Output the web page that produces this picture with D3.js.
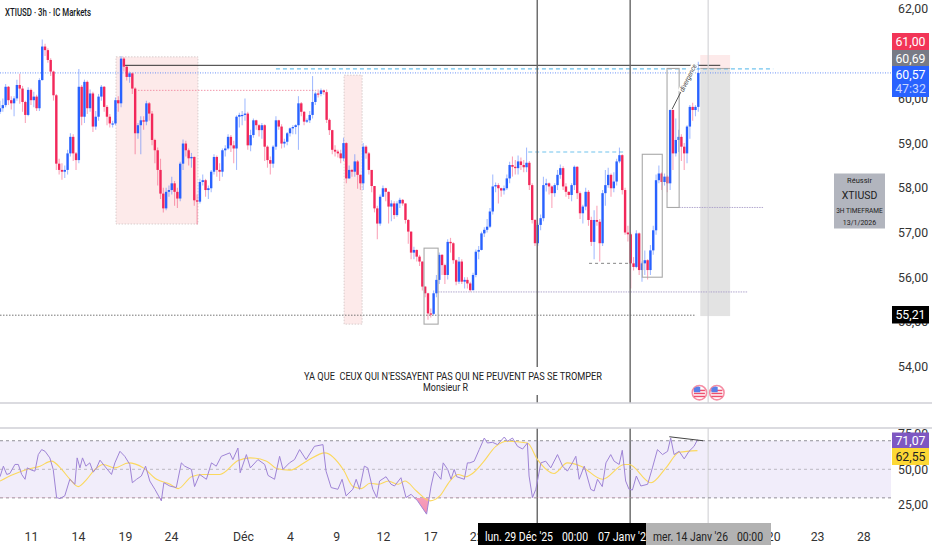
<!DOCTYPE html>
<html>
<head>
<meta charset="utf-8">
<script src="https://cdn.jsdelivr.net/npm/d3@7"></script>
<style>
  html, body { margin: 0; background: #fff; }
  text { font-family: Roboto, sans-serif; }
</style>
</head>
<body>
<div id="chart"></div>
<script>
const closes = [
  59.78,59.85,60.26,59.96,59.89,60.00,60.30,60.22,59.92,59.63,
  60.19,59.96,60.04,59.78,60.41,61.16,61.08,60.86,60.60,60.07,
  58.54,58.40,58.36,58.40,58.77,59.14,58.77,58.62,60.26,59.59,
  60.37,59.78,60.11,59.37,59.59,60.04,60.26,59.81,59.59,59.44,
  59.44,59.96,59.89,60.89,60.71,60.48,60.56,60.22,59.22,59.40,
  59.51,59.48,59.89,59.66,59.07,58.84,58.40,57.87,57.54,57.91,
  57.95,58.10,57.91,57.76,58.54,58.99,58.84,58.66,58.69,57.72,
  57.69,58.13,58.17,57.95,57.99,58.36,58.69,58.40,58.36,58.84,
  58.88,59.14,58.95,58.88,59.59,59.63,59.63,59.66,58.95,59.18,
  59.51,59.40,59.29,59.40,58.92,58.62,58.54,58.92,59.51,59.37,
  58.99,59.03,59.22,59.33,59.36,59.40,59.89,59.70,59.48,59.51,59.63,
  59.92,60.11,60.10,60.18,60.14,59.52,59.29,58.85,58.81,58.77,58.66,59.00,58.21,
  58.40,58.36,58.59,58.29,58.10,58.92,58.77,58.40,58.04,
  57.54,57.20,57.80,57.99,57.91,57.58,57.65,57.39,57.65,
  57.73,57.65,57.28,57.02,56.55,56.61,56.46,56.35,55.79,55.64,
  55.19,55.18,55.64,55.94,56.50,56.27,56.05,56.79,56.76,56.38,
  55.90,56.35,55.90,55.94,55.86,55.71,56.05,56.57,56.61,56.98,
  57.06,57.13,57.47,58.03,58.06,57.99,57.94,57.99,58.21,58.51,
  58.47,58.44,58.59,58.51,58.46,58.56,58.06,57.28,
  56.76,57.17,57.32,58.06,58.10,58.03,57.88,58.06,58.29,58.44,
  58.03,57.91,57.84,58.06,58.47,57.88,57.43,57.58,57.91,57.28,
  56.79,57.28,57.24,56.76,57.88,58.06,58.29,57.99,58.14,58.59,
  58.73,57.95,57.00,56.96,56.31,56.23,56.98,56.16,56.31,56.38,
  56.16,56.60,57.05,58.17,58.32,58.13,58.25,58.10,59.74,58.77,
  59.07,59.14,58.92,58.77,59.37,59.81,59.74,59.81,60.57
];
const highs = [
  59.95,60.00,60.32,60.28,60.05,60.05,60.42,60.55,60.28,59.95,
  60.25,60.22,60.15,60.08,60.45,61.32,61.22,61.12,60.90,60.62,
  60.10,58.65,58.55,58.50,58.85,59.22,59.20,58.80,60.66,60.30,
  60.42,60.40,60.20,60.15,59.72,60.10,60.30,60.28,59.85,59.65,
  59.50,60.02,60.05,60.95,60.92,60.72,60.60,60.58,60.25,59.45,
  59.60,59.60,59.95,59.92,59.72,59.10,58.90,58.65,58.00,58.00,
  58.05,58.25,58.15,58.00,58.58,59.08,59.05,58.88,58.78,58.70,
  57.85,58.20,58.30,58.20,58.05,58.40,58.75,58.72,58.55,58.88,
  58.95,59.20,59.18,59.05,59.62,59.68,59.72,60.00,59.70,59.30,
  59.55,59.52,59.42,59.45,59.42,58.95,58.70,58.95,59.60,59.52,
  59.42,59.10,59.25,59.35,59.40,59.42,60.05,59.92,59.72,59.55,59.72,
  60.50,60.15,60.20,60.22,60.20,60.20,59.55,59.30,58.95,58.85,58.85,59.12,59.02,
  58.50,58.42,58.75,58.62,58.30,59.00,58.95,58.80,58.40,
  58.04,57.60,57.85,58.05,58.00,57.92,57.72,57.70,57.70,
  57.78,57.75,57.65,57.30,57.02,56.68,56.62,56.50,56.35,55.80,
  55.65,55.30,55.70,56.05,56.55,56.52,56.30,56.85,56.88,56.78,
  56.40,56.45,56.40,56.00,56.00,55.90,56.10,56.62,56.70,57.02,
  57.12,57.30,57.55,58.30,58.12,58.10,58.00,58.05,58.30,58.58,
  58.70,58.62,58.72,58.68,58.62,58.90,58.60,58.10,
  57.30,57.22,57.40,58.25,58.20,58.12,58.05,58.10,58.40,58.52,
  58.48,58.10,57.92,58.10,58.50,58.48,57.92,57.62,58.00,57.95,
  57.35,57.50,57.60,57.30,57.95,58.40,58.45,58.32,58.35,58.65,
  58.90,58.75,58.00,57.15,57.00,56.45,57.05,57.00,56.35,56.60,
  56.40,56.72,57.15,58.30,58.50,58.35,58.32,58.28,59.75,59.75,
  59.55,59.30,59.20,59.00,59.40,59.85,59.90,59.85,60.82
];
const lows = [
  59.65,59.70,59.80,59.85,59.75,59.60,59.95,59.88,59.70,59.45,
  59.60,59.85,59.80,59.72,59.72,60.40,60.95,60.80,60.50,59.95,
  58.40,58.30,58.18,58.22,58.30,58.70,58.60,58.40,58.55,59.40,
  59.45,59.65,59.70,59.25,59.30,59.50,59.95,59.70,59.40,59.35,
  59.35,59.40,59.70,59.80,60.60,60.40,60.35,60.10,58.75,59.10,
  58.75,59.30,59.40,59.50,58.95,58.55,58.05,57.75,57.45,57.50,
  57.80,57.85,57.60,57.55,57.70,58.40,58.70,58.50,58.45,57.60,
  57.18,57.65,58.05,57.80,57.75,57.90,58.30,58.25,58.15,58.25,
  58.70,58.85,58.80,58.55,58.40,59.35,59.40,59.50,58.85,58.82,
  59.12,59.30,59.15,59.10,58.60,58.45,58.30,58.45,58.85,59.30,
  58.88,58.90,58.95,59.15,59.20,59.20,58.85,59.60,59.40,59.45,59.45,
  59.55,59.85,60.02,60.05,60.08,59.45,59.18,58.75,58.70,58.68,58.55,58.60,58.10,
  58.20,58.25,58.25,57.98,57.95,57.95,58.65,58.30,57.90,
  57.45,56.85,57.15,57.85,57.70,57.20,57.25,57.30,57.35,
  57.55,57.60,57.20,56.75,56.40,56.40,56.35,56.25,55.70,55.55,
  55.05,55.10,55.15,55.55,55.85,56.05,55.85,55.95,56.55,56.30,
  55.82,55.85,55.85,55.75,55.75,55.68,55.70,56.00,56.40,56.60,
  56.90,57.00,57.10,57.40,57.90,57.65,57.80,57.85,57.95,58.10,
  58.25,58.30,58.30,58.40,58.35,58.35,57.95,57.20,
  56.70,56.70,57.05,57.25,57.92,57.85,57.55,57.80,57.95,58.20,
  57.95,57.80,57.75,57.70,57.95,57.75,57.30,57.20,57.50,57.15,
  56.70,56.40,57.15,56.35,56.70,57.60,58.00,57.80,57.90,58.05,
  58.55,57.85,56.95,56.80,55.75,56.15,56.20,56.05,55.90,56.05,
  55.95,56.05,56.50,56.95,58.10,57.95,58.05,57.90,57.95,58.40,
  58.70,58.80,58.60,58.40,58.55,59.10,59.50,59.60,59.70
];

const rsiBars = [0,1.2,2.4,3.5,5.3,6.5,7.7,8.9,9.7,11.2,12.4,13.6,14.8,16,17.7,18.9,20.1,21.3,23,24.8,26.6,27.4,28.4,29.3,30.5,31.9,33.1,34.3,35.5,37.2,39.6,40.8,42.6,44.3,46.1,47,48.5,50.2,51.7,53.2,55,57.3,58.2,60.3,62.6,64.4,65.6,68,69.1,70.9,73.3,75.1,76.8,78.6,81.6,82.7,84.5,85.3,87.5,88.9,91.6,94,95.2,97.5,99.3,100.5,102.8,104.6,106.4,108.7,111.7,114.7,115.8,117.6,120,121.5,122.9,125.3,126.5,127.7,129.4,130.6,132.4,133.8,134.8,137.1,138.9,140.1,142.4,144.2,146,148.3,151.5,153.1,154.3,156.6,157.4,159,160.2,161.3,162.2,164.9,166,166.9,168.4,170.2,172,173.1,174.9,176.7,179.1,180.2,182,183.8,185.6,187.3,187.9,189.1,190.3,192.1,193.8,195.6,198,199.8,201.5,203.3,204.5,205.7,207.5,209.8,211,212.2,213.9,215.2,216.9,218.1,219.9,221,222.2,223.4,224.6,226,227.6,230,231.7,233.5,235.3,237.1,238.2,239.4,241.2,243,244.7,246.5,247.7];
const rsiValues = [44.8,52.2,46.4,47.1,53.4,53.4,46.4,43,51,49.4,48.7,60.3,63.8,62.6,58,49.9,30.2,29.5,31.4,43,39.5,58,51,58,52.2,54.5,48,51,56.4,52.2,46.4,54.5,62.6,59.1,53.4,40.6,43,45.3,52.2,41.8,36,27.9,40.6,38.3,37.2,54.5,52.2,49.9,37.9,46.4,43,54.5,52.2,59.1,61.5,56.8,64.9,47.6,60.3,51,56.8,53.4,45.7,43,59.1,49.9,54.5,56.8,63.8,56.8,66.1,67.3,48.7,37.2,36,43,31.4,36,43,36,52.2,51,36,30.2,41.8,44.8,39.5,38.3,44.1,30.2,32.5,27.9,18.6,38.3,48.7,43,54.5,49.9,43,49.9,44.8,43,54.5,54.5,55.7,63.8,71.9,68.4,68.9,67.3,72.6,69.6,71.9,66.1,64.2,68.4,45.3,30.2,36,54.5,55.7,51,60.3,52.2,48.7,54.5,59.1,43,52.2,36,34.8,43,37.9,54.5,60.3,55.7,53.4,63.3,41.8,36,35.5,45.3,38.3,39.5,51,63.8,60.3,62.6,71.9,60.3,62.6,57.3,62.6,66.1,70.7];
const maBars = [0,4.7,9.5,14.2,18.3,21.9,24.9,27.8,30.8,33.7,36.7,40.8,45.6,50.9,55.6,60.4,63.3,68,72.2,78.1,84.6,88.8,94.7,98.2,103,108.9,115.4,121.9,125.4,128.4,131.4,134.3,137.9,141.4,143.8,147.9,152.7,156.2,159.8,162.7,165.4,167.8,171.4,176.1,180.2,187.3,190.9,196.8,201.5,206.3,214,221.7,223.4,231.2,236.5,241.2,247.7];
const maValues = [41.8,46.4,49.9,52.2,55.7,49.9,42.9,37.9,43,49.9,53.4,51,54.5,51,43,39.5,36.5,44.8,46.4,46.4,56.1,58,55.7,50.6,49.4,55.7,61.5,49.9,37.9,36.5,40.2,39.5,41.8,39.5,41.8,34.8,27.9,31.4,41.8,46.4,44.8,47.1,54.5,66.1,69.6,68.4,56.8,47.1,54.5,52.2,43,53.4,53.4,40.6,51,61.9,63.1];

const timeBars = [11,27.7,44.4,60.7,86.3,103,119.4,136,152.8,169.1,274.6,290.2,306.6];
const timeLabels = ["11","14","19","24","Déc","4","9","12","17","22","20","23","28"];
const priceTicks = [54,55,56,57,58,59,60,62];
const rsiTicks = [25,50,75];
const rsiLevels = [70,50,30];

// [bar from, bar to, price top, price bottom]
const pinkZones = [[41.2,70.3,60.93,57.19],[122.2,128.6,60.52,54.95],[248.7,259.3,60.97,60.66]];
const greyZones = [[248.7,259.3,60.66,55.13]];
const outlineBoxes = [[150.6,155.6,56.65,54.95],[228.1,235.2,58.75,56.0],[236.9,241.2,60.67,57.56]];
const eventBars = [190.8,223.8];
const cursorBar = 251.5;
const flagBars = [248.4,254.6];

const width = 932, height = 550;
const paneRight = 891, axisX = 892, axisW = 37;

const x = d3.scaleLinear().domain([0, 331]).range([0, width]);
const y = d3.scaleLinear().domain([54, 62]).range([366.6, 9]);
const yRsi = d3.scaleLinear().domain([25, 75]).range([505, 433.6]);
const comma = v => d3.format(".2f")(v).replace(".", ",");

const svg = d3.select("#chart").append("svg")
  .attr("width", width).attr("height", height)
  .style("display", "block");

// zones
const zoneRect = (sel, z) => sel
  .attr("x", x(z[0])).attr("width", x(z[1]) - x(z[0]))
  .attr("y", y(z[2])).attr("height", y(z[3]) - y(z[2]));

pinkZones.forEach((z, i) => {
  const r = svg.append("rect").call(zoneRect, z).attr("fill", "#fdeaea");
  if (i < 2) r.attr("stroke", "#cfc4c4").attr("stroke-dasharray", "1.5 1.5").attr("stroke-width", 0.8);
});
greyZones.forEach(z => svg.append("rect").call(zoneRect, z).attr("fill", "#e3e3e3"));

// horizontal levels
const hLine = (b0, b1, p, color, w, dash) => svg.append("line")
  .attr("x1", x(b0)).attr("x2", x(b1)).attr("y1", y(p)).attr("y2", y(p))
  .attr("stroke", color).attr("stroke-width", w).attr("stroke-dasharray", dash);

hLine(0, 316.8, 60.57, "#5b86f5", 0.9, "1 1.5");
hLine(49, 112.3, 60.18, "#f08aa2", 0.9, "1.5 1.5");
hLine(0, 247.2, 55.15, "#666", 0.9, "1.5 1.5");
hLine(155.6, 265.7, 55.67, "#a89cc8", 0.9, "1.5 1");
hLine(241.2, 271, 57.56, "#a89cc8", 0.9, "1.5 1");
hLine(209.2, 223.8, 56.31, "#777", 0.9, "3 3");
hLine(187.6, 221.3, 58.8, "#71c4ee", 1.1, "4 3");
hLine(98, 274.6, 60.66, "#71c4ee", 1.1, "4 3");
hLine(44, 255.8, 60.74, "#333", 1, null);
hLine(248.7, 259.3, 60.67, "#999", 0.8, null);

// candles
const bars = closes.map((c, i) => ({
  i, close: c, open: i ? closes[i - 1] : 59.7, high: highs[i], low: lows[i]
}));
const up = d => d.close >= d.open;

svg.append("g").selectAll("line").data(bars).enter().append("line")
  .attr("x1", d => x(d.i)).attr("x2", d => x(d.i))
  .attr("y1", d => y(Math.max(d.high, d.open, d.close)))
  .attr("y2", d => y(Math.min(d.low, d.open, d.close)))
  .attr("stroke", d => up(d) ? "#2962ff" : "#f2285a")
  .attr("stroke-opacity", 0.42).attr("stroke-width", 1.1);

svg.append("g").selectAll("rect").data(bars).enter().append("rect")
  .attr("x", d => x(d.i) - 1.2).attr("width", 2.4)
  .attr("y", d => y(Math.max(d.open, d.close)))
  .attr("height", d => Math.max(1.2, Math.abs(y(d.open) - y(d.close))))
  .attr("fill", d => up(d) ? "#2962ff" : "#f2285a");

// outline boxes
outlineBoxes.forEach(z => svg.append("rect").call(zoneRect, z)
  .attr("fill", "none").attr("stroke", "#a9a9a9").attr("stroke-width", 1.1));

// divergence note
svg.append("line")
  .attr("x1", x(238.7)).attr("y1", y(59.76)).attr("x2", x(246.9)).attr("y2", y(60.77))
  .attr("stroke", "#444").attr("stroke-width", 0.9);
const noteX = x(244.4), noteY = y(60.46);
svg.append("rect").attr("x", -16).attr("y", -3.5).attr("width", 32).attr("height", 7).attr("fill", "#fff")
  .attr("transform", `translate(${noteX},${noteY}) rotate(-63)`);
svg.append("text").text("divergence")
  .attr("transform", `translate(${noteX},${noteY}) rotate(-63)`)
  .attr("text-anchor", "middle").attr("dy", "0.33em")
  .attr("font-size", 7).attr("font-style", "italic").attr("fill", "#444")
  .attr("textLength", 30).attr("lengthAdjust", "spacingAndGlyphs");

// vertical lines, main pane and rsi pane
[[0, 403], [428, 523]].forEach(([t, bottom]) => {
  eventBars.forEach(b => svg.append("line")
    .attr("x1", x(b)).attr("x2", x(b)).attr("y1", t).attr("y2", bottom)
    .attr("stroke", "#666").attr("stroke-width", 1.4));
  svg.append("line")
    .attr("x1", x(cursorBar)).attr("x2", x(cursorBar)).attr("y1", t).attr("y2", bottom)
    .attr("stroke", "#d4d4d8").attr("stroke-width", 1.2);
});

// quote
svg.append("rect").attr("x", 300).attr("y", 367).attr("width", 305).attr("height", 28).attr("fill", "#fff");
svg.append("text").attr("x", 304).attr("y", 379.5)
  .attr("font-size", 10.2).attr("fill", "#222").attr("xml:space", "preserve")
  .attr("textLength", 298).attr("lengthAdjust", "spacingAndGlyphs")
  .text("YA QUE  CEUX QUI N'ESSAYENT PAS QUI NE PEUVENT PAS SE TROMPER");
svg.append("text").attr("x", 423).attr("y", 390.5)
  .attr("font-size", 10.2).attr("fill", "#222")
  .attr("textLength", 45).attr("lengthAdjust", "spacingAndGlyphs")
  .text("Monsieur R");

// flags
flagBars.forEach(b => {
  const g = svg.append("g").attr("transform", `translate(${x(b)},392.7)`);
  g.append("circle").attr("r", 7.2).attr("fill", "#fff").attr("stroke", "#f58ea4").attr("stroke-width", 1.6);
  [-3, 0, 3].forEach(dy => g.append("rect").attr("x", -5.5).attr("y", dy).attr("width", 11).attr("height", 1.5).attr("fill", "#ef4f6f"));
  g.append("path").attr("d", "M-5.5,-0.5 V-4.5 A7,7 0 0 1 0.8,-5.8 V-0.5 Z").attr("fill", "#5b7fe8");
});

// pane borders
[403, 428].forEach(py => svg.append("line")
  .attr("x1", 0).attr("x2", width).attr("y1", py).attr("y2", py)
  .attr("stroke", "#cfcfd6").attr("stroke-width", 1.4));

// rsi pane
svg.insert("rect", ":first-child")
  .attr("x", 0).attr("width", paneRight)
  .attr("y", yRsi(70)).attr("height", yRsi(30) - yRsi(70))
  .attr("fill", "#f1edfa");

rsiLevels.forEach(v => svg.append("line")
  .attr("x1", 0).attr("x2", paneRight).attr("y1", yRsi(v)).attr("y2", yRsi(v))
  .attr("stroke", v === 50 ? "#b5b2bb" : "#85838c").attr("stroke-width", 0.9).attr("stroke-dasharray", "3 3"));

const rsiPoints = rsiBars.map((b, i) => [b, rsiValues[i]]);
const maPoints = maBars.map((b, i) => [b, maValues[i]]);

const grad = svg.append("defs").append("linearGradient").attr("id", "oversold")
  .attr("x1", 0).attr("x2", 0).attr("y1", 0).attr("y2", 1);
grad.append("stop").attr("offset", "0%").attr("stop-color", "#fbdbe4");
grad.append("stop").attr("offset", "100%").attr("stop-color", "#f48fb1");

svg.select("defs").append("clipPath").attr("id", "below30").append("rect")
  .attr("x", 0).attr("width", width).attr("y", yRsi(30)).attr("height", 40);

svg.append("path").datum(rsiPoints)
  .attr("d", d3.area().x(d => x(d[0])).y0(yRsi(30)).y1(d => yRsi(d[1])))
  .attr("fill", "url(#oversold)").attr("clip-path", "url(#below30)");

svg.append("path").datum(maPoints)
  .attr("d", d3.line().x(d => x(d[0])).y(d => yRsi(d[1])).curve(d3.curveMonotoneX))
  .attr("fill", "none").attr("stroke", "#fbd85d").attr("stroke-width", 1.1);

svg.append("path").datum(rsiPoints)
  .attr("d", d3.line().x(d => x(d[0])).y(d => yRsi(d[1])))
  .attr("fill", "none").attr("stroke", "#9f84d6").attr("stroke-width", 1);

svg.append("line")
  .attr("x1", x(237.7)).attr("y1", yRsi(72.8)).attr("x2", x(249.7)).attr("y2", yRsi(70))
  .attr("stroke", "#444").attr("stroke-width", 1);

// axes
const styleAxis = g => {
  g.select(".domain").remove();
  g.selectAll(".tick line").remove();
  g.selectAll("text").attr("font-size", 12.3).attr("fill", "#333").attr("font-family", "Roboto, sans-serif");
};

svg.append("g").attr("transform", `translate(${axisX},0)`)
  .call(d3.axisRight(y).tickValues(priceTicks).tickFormat(comma).tickSize(0).tickPadding(6))
  .call(styleAxis);

svg.append("g").attr("transform", `translate(${axisX},0)`)
  .call(d3.axisRight(yRsi).tickValues(rsiTicks).tickFormat(comma).tickSize(0).tickPadding(6))
  .call(styleAxis);

svg.append("g").attr("transform", "translate(0,529.5)")
  .call(d3.axisBottom(x).tickValues(timeBars).tickFormat((d, i) => timeLabels[i]).tickSize(0).tickPadding(3))
  .call(styleAxis);

// right side price tags
const tag = (top, h, fill, lines) => {
  svg.append("rect").attr("x", axisX).attr("y", top).attr("width", axisW).attr("height", h).attr("fill", fill);
  lines.forEach(l => svg.append("text").attr("x", axisX + axisW / 2).attr("y", top + l.dy)
    .attr("text-anchor", "middle").attr("font-size", 12.3).attr("fill", l.color).text(l.text));
};
tag(33, 17, "#f23557", [{ text: "61,00", dy: 12.8, color: "#fff" }]);
tag(50, 16, "#787b86", [{ text: "60,69", dy: 12.5, color: "#fff" }]);
tag(66, 31, "#2962ff", [{ text: "60,57", dy: 12.5, color: "#fff" }, { text: "47:32", dy: 27, color: "#c9d6ff" }]);
tag(306, 17.5, "#000", [{ text: "55,21", dy: 13, color: "#fff" }]);
tag(432.5, 15.5, "#7e57c2", [{ text: "71,07", dy: 12, color: "#fff" }]);
tag(448, 17, "#fdd835", [{ text: "62,55", dy: 13, color: "#222" }]);

// time tags
const clip = svg.select("defs").append("clipPath").attr("id", "blackTag");
clip.append("rect").attr("x", 478).attr("y", 523).attr("width", 168).attr("height", 22);
svg.append("rect").attr("x", 478).attr("y", 523).attr("width", 168).attr("height", 22).attr("fill", "#000");
const timeTag = (tx, len, txt, color, cp) => {
  const t = svg.append("text").attr("x", tx).attr("y", 540.5).attr("font-size", 12.3).attr("fill", color)
    .attr("textLength", len).attr("lengthAdjust", "spacingAndGlyphs").text(txt);
  if (cp) t.attr("clip-path", cp);
};
timeTag(485, 68, "lun. 29 Déc '25", "#fff");
timeTag(562, 26, "00:00", "#fff");
timeTag(598, 54, "07 Janv '26", "#fff", "url(#blackTag)");
svg.append("rect").attr("x", 646).attr("y", 523).attr("width", 125).attr("height", 22).attr("fill", "#b2b2b2");
timeTag(653, 75, "mer. 14 Janv '26", "#222");
timeTag(737, 26, "00:00", "#222");

// title
svg.append("text").attr("x", 5).attr("y", 16).attr("font-size", 10.6).attr("font-weight", 500)
  .attr("fill", "#131722").attr("textLength", 86).attr("lengthAdjust", "spacingAndGlyphs")
  .text("XTIUSD · 3h · IC Markets");

// info card
svg.append("rect").attr("x", 834).attr("y", 173.5).attr("width", 51).attr("height", 55).attr("fill", "#b2b5be");
[["Réussir", 182.5, 7.5], ["XTIUSD", 198.5, 10.5], ["3H TIMEFRAME", 212.5, 6.6], ["13/1/2026", 225, 7]].forEach(([t, ty, fs]) =>
  svg.append("text").attr("x", 859.5).attr("y", ty).attr("text-anchor", "middle")
    .attr("font-size", fs).attr("fill", "#222").text(t));
</script>
</body>
</html>
